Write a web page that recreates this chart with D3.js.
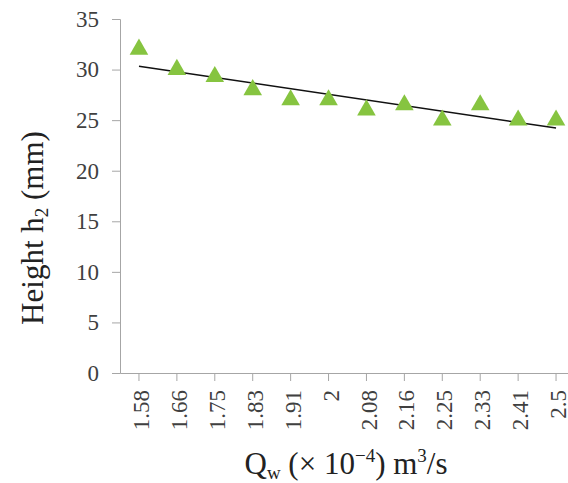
<!DOCTYPE html>
<html>
<head>
<meta charset="utf-8">
<script src="https://cdn.jsdelivr.net/npm/d3@7"></script>
<style>
  body { margin: 0; background: #fff; }
  svg { display: block; }
</style>
</head>
<body>
<svg width="568" height="483"></svg>
<script>
// DATA
var flowRates = ["1.58", "1.66", "1.75", "1.83", "1.91", "2", "2.08", "2.16", "2.25", "2.33", "2.41", "2.5"];
var heights = [32, 30, 29.3, 28, 27, 27, 26, 26.5, 25, 26.5, 25, 25];
var yTicks = [0, 5, 10, 15, 20, 25, 30, 35];

var svg = d3.select("svg"),
    font = "'Liberation Serif', 'Times New Roman', serif",
    axisColor = "#a6a6a6",
    green = "#86c440";

var x = d3.scaleBand().domain(flowRates).range([120, 575]);
var y = d3.scaleLinear().domain([0, 35]).range([373, 19]);

// y axis
var yAxis = svg.append("g")
    .attr("transform", "translate(120,0)")
    .call(d3.axisLeft(y).tickValues(yTicks).tickSize(8).tickPadding(13));
yAxis.select(".domain").attr("stroke", axisColor);
yAxis.selectAll(".tick line").attr("stroke", axisColor);
yAxis.selectAll(".tick text")
    .attr("font-family", font)
    .attr("font-size", "23px")
    .attr("fill", "#404040");

// x axis, tick at category centre
var xAxis = svg.append("g")
    .attr("transform", "translate(0,373)")
    .call(d3.axisBottom(x).tickSize(8).tickSizeOuter(0));
xAxis.select(".domain").attr("stroke", axisColor);
xAxis.selectAll(".tick line").attr("stroke", axisColor);
xAxis.selectAll(".tick text")
    .attr("font-family", font)
    .attr("font-size", "23px")
    .attr("fill", "#404040")
    .attr("text-anchor", "end")
    .attr("transform", "rotate(-90)")
    .attr("x", -17)
    .attr("y", 2)
    .attr("dy", "0.35em");

// linear trendline (least squares on category index)
var n = heights.length,
    idx = d3.range(1, n + 1),
    mx = d3.mean(idx),
    my = d3.mean(heights),
    sxy = d3.sum(idx, function(v, i) { return (v - mx) * (heights[i] - my); }),
    sxx = d3.sum(idx, function(v) { return (v - mx) * (v - mx); }),
    slope = sxy / sxx,
    icpt = my - slope * mx;

var cx = function(d) { return x(d) + x.bandwidth() / 2; };

svg.append("line")
    .attr("x1", cx(flowRates[0]))
    .attr("y1", y(icpt + slope * 1))
    .attr("x2", cx(flowRates[n - 1]))
    .attr("y2", y(icpt + slope * n))
    .attr("stroke", "#111")
    .attr("stroke-width", 1.5);

// markers
var tri = d3.symbol().type(d3.symbolTriangle).size(150);
svg.append("g").selectAll("path")
    .data(heights)
    .enter().append("path")
    .attr("d", tri)
    .attr("fill", green)
    .attr("transform", function(d, i) {
      return "translate(" + cx(flowRates[i]) + "," + y(d) + ")";
    });

// axis titles
var yTitle = svg.append("text")
    .attr("transform", "translate(43,228) rotate(-90)")
    .attr("text-anchor", "middle")
    .attr("font-family", font)
    .attr("font-size", "31px")
    .attr("fill", "#222");
yTitle.append("tspan").text("Height h");
yTitle.append("tspan").attr("font-size", "19px").attr("dy", "5").text("2");
yTitle.append("tspan").attr("dy", "-5").text(" (mm)");

var xTitle = svg.append("text")
    .attr("x", 346)
    .attr("y", 474)
    .attr("text-anchor", "middle")
    .attr("font-family", font)
    .attr("font-size", "31px")
    .attr("fill", "#222");
xTitle.append("tspan").text("Q");
xTitle.append("tspan").attr("font-size", "19px").attr("dy", "5").text("w");
xTitle.append("tspan").attr("dy", "-5").text(" (× 10");
xTitle.append("tspan").attr("font-size", "19px").attr("dy", "-12").text("−4");
xTitle.append("tspan").attr("dy", "12").text(") m");
xTitle.append("tspan").attr("font-size", "19px").attr("dy", "-12").text("3");
xTitle.append("tspan").attr("dy", "12").text("/s");
</script>
</body>
</html>
